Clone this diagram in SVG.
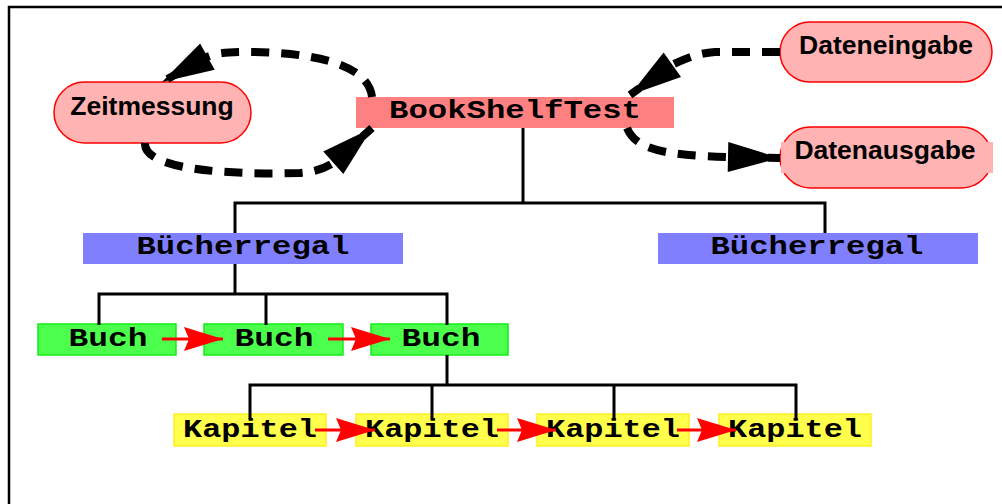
<svg xmlns="http://www.w3.org/2000/svg" width="1002" height="504" viewBox="0 0 1002 504">
  <style>
    .mono { font-family: "Liberation Mono", "Courier New", monospace; font-weight: bold; font-size: 26px; fill: #000; }
    .sans { font-family: "Liberation Sans", Arial, sans-serif; font-weight: bold; font-size: 26.5px; fill: #000; }
    .pill { fill: #FFB3B3; stroke: #FF0000; stroke-width: 1.5; }
    .main { fill: #FF8080; }
    .shelf { fill: #8080FF; }
    .book { fill: #4CFF4C; stroke: #14EE14; stroke-width: 1.5; }
    .chapter { fill: #FFFF4C; stroke: #FFEE22; stroke-width: 1.5; }
    .tree { fill: none; stroke: #000; stroke-width: 3; }
    .next { fill: none; stroke: #FF0000; stroke-width: 3; marker-end: url(#redHead); }
    .io { fill: none; stroke: #000; stroke-width: 8; stroke-dasharray: 18 12; marker-end: url(#blackHead); }
  </style>
  <defs>
    <marker id="blackHead" markerUnits="userSpaceOnUse" viewBox="-54 -17 56 34" markerWidth="56" markerHeight="34" refX="0" refY="0" orient="auto">
      <path d="M0,0 L-52,-15 L-52,15 Z" fill="#000" stroke="none"/>
    </marker>
    <marker id="redHead" markerUnits="userSpaceOnUse" viewBox="-40 -14 42 28" markerWidth="42" markerHeight="28" refX="0" refY="0" orient="auto">
      <path d="M0,0 L-39,-12 L-34,0 L-39,12 Z" fill="#FF0000" stroke="none"/>
    </marker>
  </defs>

  <rect width="1002" height="504" fill="#FFFFFF"/>
  <!-- frame -->
  <rect x="9" y="7" width="1010" height="520" fill="none" stroke="#000" stroke-width="2.5"/>

  <g id="BookShelfTest">
    <rect class="main" x="356" y="97" width="318" height="31"/>
    <text class="mono" x="515" y="118" text-anchor="middle" textLength="252" lengthAdjust="spacingAndGlyphs">BookShelfTest</text>
  </g>

  <g id="Zeitmessung">
    <rect class="pill" x="54" y="82" width="197" height="61" rx="30.5" ry="30.5"/>
    <text class="sans" x="152" y="115" text-anchor="middle">Zeitmessung</text>
  </g>

  <g id="Dateneingabe">
    <rect class="pill" x="780" y="22" width="212" height="60" rx="30" ry="30"/>
    <text class="sans" x="886" y="54" text-anchor="middle">Dateneingabe</text>
  </g>

  <g id="Datenausgabe">
    <rect class="pill" x="780" y="127" width="212" height="61" rx="30.5" ry="30.5"/>
    <rect x="781" y="142" width="212" height="31" fill="#FFB3B3"/>
    <text class="sans" x="885" y="159" text-anchor="middle">Datenausgabe</text>
  </g>

  <g id="Buecherregal1">
    <rect class="shelf" x="83" y="233" width="320" height="31"/>
    <text class="mono" x="243" y="254" text-anchor="middle" textLength="213" lengthAdjust="spacingAndGlyphs">Bücherregal</text>
  </g>

  <g id="Buecherregal2">
    <rect class="shelf" x="658" y="233" width="320" height="31"/>
    <text class="mono" x="817" y="254" text-anchor="middle" textLength="213" lengthAdjust="spacingAndGlyphs">Bücherregal</text>
  </g>

  <g id="Buch1">
    <rect class="book" x="38" y="324" width="138" height="31"/>
    <text class="mono" x="108" y="346" text-anchor="middle" textLength="79" lengthAdjust="spacingAndGlyphs">Buch</text>
  </g>
  <g id="Buch2">
    <rect class="book" x="204" y="324" width="139" height="31"/>
    <text class="mono" x="274" y="346" text-anchor="middle" textLength="79" lengthAdjust="spacingAndGlyphs">Buch</text>
  </g>
  <g id="Buch3">
    <rect class="book" x="371" y="324" width="137" height="31"/>
    <text class="mono" x="441" y="346" text-anchor="middle" textLength="79" lengthAdjust="spacingAndGlyphs">Buch</text>
  </g>

  <g id="Kapitel1">
    <rect class="chapter" x="174" y="414" width="152" height="32"/>
    <text class="mono" x="183" y="437" textLength="134" lengthAdjust="spacingAndGlyphs">Kapitel</text>
  </g>
  <g id="Kapitel2">
    <rect class="chapter" x="356" y="414" width="152" height="32"/>
    <text class="mono" x="365" y="437" textLength="134" lengthAdjust="spacingAndGlyphs">Kapitel</text>
  </g>
  <g id="Kapitel3">
    <rect class="chapter" x="537" y="414" width="152" height="32"/>
    <text class="mono" x="546" y="437" textLength="134" lengthAdjust="spacingAndGlyphs">Kapitel</text>
  </g>
  <g id="Kapitel4">
    <rect class="chapter" x="719" y="414" width="152" height="32"/>
    <text class="mono" x="728" y="437" textLength="134" lengthAdjust="spacingAndGlyphs">Kapitel</text>
  </g>

  <g id="connectors">
    <!-- containment tree -->
    <path class="tree" d="M523 128 V203"/>
    <path class="tree" d="M235 233 V203 H825 V233"/>
    <path class="tree" d="M235 264 V294"/>
    <path class="tree" d="M99 325 V294 H447 V325"/>
    <path class="tree" d="M266 294 V325"/>
    <path class="tree" d="M447 355 V385"/>
    <path class="tree" d="M250 419 V385 H796 V419"/>
    <path class="tree" d="M432 385 V419"/>
    <path class="tree" d="M614 385 V419"/>

    <!-- successor links -->
    <path class="next" d="M162 339 H223"/>
    <path class="next" d="M328 339 H390"/>
    <path class="next" d="M315 430 H375"/>
    <path class="next" d="M497 430 H556"/>
    <path class="next" d="M677 430 H736"/>

    <!-- data flow -->
    <path class="io" d="M372 97 C368 60, 300 52, 245 52 C228 52, 214 53, 205 58 L162 82"/>
    <path class="io" d="M145 143 C143 170, 230 175, 300 173 C315 172, 325 168, 333 163 L372 128"/>
    <path class="io" d="M780 52 L715 52 C700 53, 688 57, 672 65 L630 95"/>
    <path class="io" d="M627 128 C636 150, 665 155, 727 157 L780 158"/>
  </g>
</svg>
